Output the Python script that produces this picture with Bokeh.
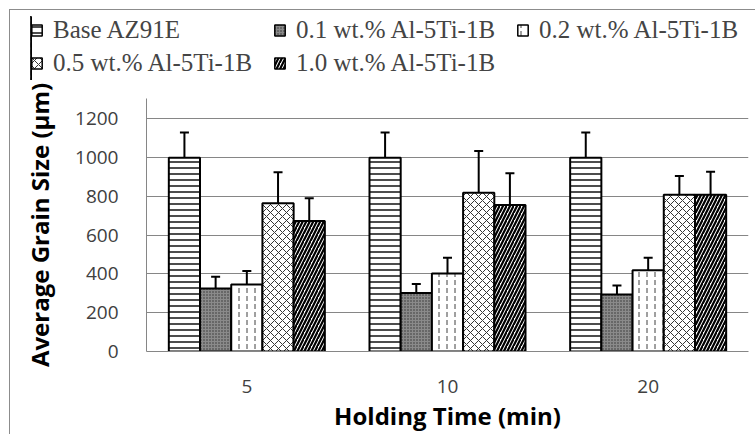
from bokeh.plotting import figure
from bokeh.layouts import column
from bokeh.models import (ColumnDataSource, Whisker, TeeHead, Legend, LegendItem,
                          FixedTicker, Range1d)
from bokeh.embed import file_html
from bokeh.resources import INLINE

# ---- data ----
times = ["5", "10", "20"]
series = ["Base AZ91E", "0.1 wt.% Al-5Ti-1B", "0.2 wt.% Al-5Ti-1B",
          "0.5 wt.% Al-5Ti-1B", "1.0 wt.% Al-5Ti-1B"]
base = [1000, 1000, 1000]
base_err = [130, 130, 130]
al01 = [325, 302, 294]
al01_err = [60, 46, 47]
al02 = [345, 402, 419]
al02_err = [70, 81, 65]
al05 = [765, 819, 809]
al05_err = [160, 215, 96]
al10 = [673, 756, 809]
al10_err = [118, 163, 118]
y_ticks = [0, 200, 400, 600, 800, 1000, 1200]

values = [base, al01, al02, al05, al10]
errors = [base_err, al01_err, al02_err, al05_err, al10_err]

# styles per series
hatch = [
    dict(fill_color="white", hatch_pattern="horizontal_line", hatch_scale=6, hatch_weight=1.4, hatch_color="black"),
    dict(fill_color="#8a8a8a", hatch_pattern="dot", hatch_scale=3, hatch_weight=1.0, hatch_color="#303030"),
    dict(fill_color="white", hatch_pattern="vertical_dash", hatch_scale=8, hatch_weight=1.0, hatch_color="#404040"),
    dict(fill_color="white", hatch_pattern="diagonal_cross", hatch_scale=8, hatch_weight=1.0, hatch_color="#333333"),
    dict(fill_color="white", hatch_pattern="right_diagonal_line", hatch_scale=7, hatch_weight=2.2, hatch_color="black"),
]

W = 745
LEG_H = 70
H = 424 - LEG_H
BL, BR, BT, BB = 136, 7, 18, 83
p = figure(width=W, height=H, output_backend="svg", toolbar_location=None,
           x_range=Range1d(-0.5, 2.5), y_range=Range1d(0, 1305),
           min_border_left=BL, min_border_right=BR, min_border_top=BT, min_border_bottom=BB)
p.outline_line_color = None
p.background_fill_color = "white"

bw = 0.1555
sources = []
for i, (vals, errs) in enumerate(zip(values, errors)):
    xs = [k + (i - 2) * bw for k in range(len(times))]
    src = ColumnDataSource(dict(x=xs, top=vals,
                                upper=[v + e for v, e in zip(vals, errs)],
                                lower=[v - e for v, e in zip(vals, errs)]))
    sources.append(src)
    p.vbar(x="x", top="top", width=bw, source=src, line_color="black",
           line_width=2, **hatch[i])
    w = Whisker(base="x", upper="upper", lower="lower", source=src,
                line_color="black", line_width=2,
                upper_head=TeeHead(size=9, line_width=2, line_color="black"),
                lower_head=TeeHead(size=9, line_width=2, line_color="black"))
    p.add_layout(w)

# axes
p.xaxis.ticker = FixedTicker(ticks=list(range(len(times))))
p.xaxis.major_label_overrides = {k: t for k, t in enumerate(times)}
p.yaxis.ticker = FixedTicker(ticks=y_ticks)
for ax in (p.xaxis, p.yaxis):
    ax.major_tick_line_color = None
    ax.minor_tick_line_color = None
    ax.axis_line_color = "#868686"
    ax.major_label_text_font = "Open Sans"
    ax.major_label_text_font_size = "19px"
    ax.major_label_text_color = "#404040"
    ax.axis_label_text_font = "Open Sans"
    ax.axis_label_text_font_style = "bold"
    ax.axis_label_text_font_size = "24px"
    ax.axis_label_text_color = "black"
p.xaxis.axis_label = "Holding Time (min)"
p.yaxis.axis_label = "Average Grain Size (\u00b5m)"
p.yaxis.major_label_standoff = 22
p.xaxis.major_label_standoff = 22
p.yaxis.axis_label_standoff = 16
p.xaxis.axis_label_standoff = 3
p.xgrid.grid_line_color = None
p.ygrid.grid_line_color = "#868686"
p.ygrid.grid_line_width = 1

# legend strip on top (its own figure, so the legend is not clipped by the chart frame)
pl = figure(width=W, height=LEG_H, output_backend="svg", toolbar_location=None,
            x_axis_type=None, y_axis_type=None, x_range=Range1d(10, 11), y_range=Range1d(0, 1),
            min_border_left=20, min_border_right=0, min_border_top=6, min_border_bottom=0)
pl.outline_line_color = None
pl.xgrid.grid_line_color = None
pl.ygrid.grid_line_color = None
if "frame_align" in pl.properties():
    pl.frame_align = False
    p.frame_align = False
leg_renderers = []
for i, src in enumerate(sources):
    r = pl.vbar(x="x", top="top", width=bw, source=src, line_color="black",
                line_width=1.5, **hatch[i])
    leg_renderers.append(r)
legend = Legend(items=[LegendItem(label=s, renderers=[r]) for s, r in zip(series, leg_renderers)],
                ncols=3, orientation="horizontal", location="top_left",
                label_text_font="Liberation Serif", label_text_font_size="25px",
                glyph_width=13, glyph_height=14, label_standoff=10, label_width=215,
                spacing=5, padding=4, margin=0, border_line_color=None,
                background_fill_alpha=0)
pl.add_layout(legend, "center")

layout = column(pl, p, spacing=0)
layout.styles = {"margin-left": "9px", "margin-top": "9px",
                 "border-left": "1px solid #8c8c8c", "border-top": "1px solid #8c8c8c"}

open("out.html", "w").write(file_html(layout, INLINE))
